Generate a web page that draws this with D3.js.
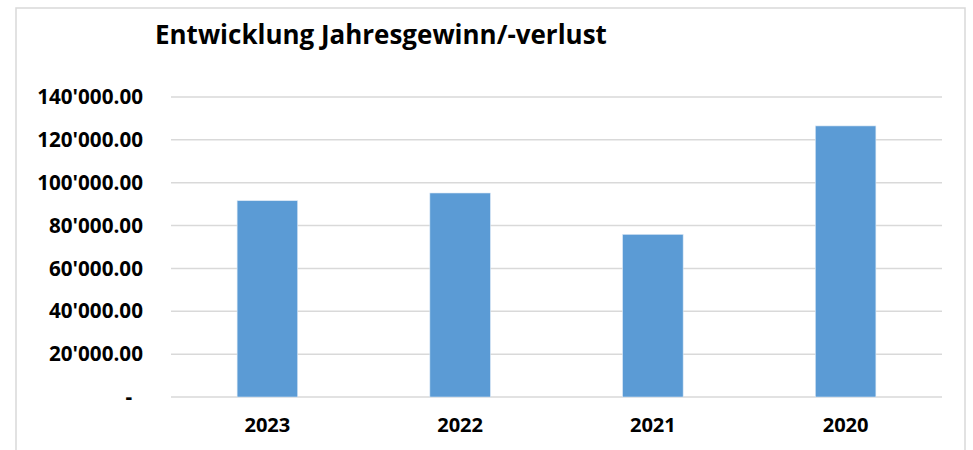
<!DOCTYPE html>
<head>
<meta charset="utf-8">
<style type="text/css">
	body { margin: 0; background: #fff; }
	text { font-family: "Open Sans", "Noto Sans", sans-serif; font-weight: bold; fill: #000; }
	.grid line { stroke: #d9d9d9; stroke-width: 1.5; }
</style>
</head>
<script src="https://d3js.org/d3.v7.min.js"></script>
<body>
	<svg width="973" height="450"></svg>
	<script>
	var years = ["2023", "2022", "2021", "2020"];
	var profit = [91600, 95200, 75900, 126500];
	var yTicks = [0, 20000, 40000, 60000, 80000, 100000, 120000, 140000];
	var title = "Entwicklung Jahresgewinn/-verlust";

	var svg = d3.select("svg");

	// chart frame
	svg.append("rect")
		.attr("x", 16).attr("y", 8)
		.attr("width", 949).attr("height", 460)
		.attr("fill", "none")
		.attr("stroke", "#d9d9d9")
		.attr("stroke-width", 1.5);

	var x = d3.scaleBand()
		.domain(years)
		.range([171, 942])
		.paddingInner(0.686)
		.paddingOuter(0.343);

	var y = d3.scaleLinear()
		.domain([0, 140000])
		.range([397, 97]);

	function fmt(v) {
		if (v === 0) return "-\u00A0\u00A0";
		return d3.format(",.2f")(v).replace(/,/g, "'");
	}

	// gridlines
	svg.append("g")
		.attr("class", "grid")
		.selectAll("line")
		.data(yTicks)
		.enter().append("line")
		.attr("x1", 171).attr("x2", 942)
		.attr("y1", function(d) { return y(d); })
		.attr("y2", function(d) { return y(d); });

	// bars
	svg.append("g")
		.selectAll("rect")
		.data(years)
		.enter().append("rect")
		.attr("x", function(d) { return x(d); })
		.attr("width", x.bandwidth())
		.attr("y", function(d, i) { return y(profit[i]); })
		.attr("height", function(d, i) { return y(0) - y(profit[i]); })
		.attr("fill", "#5b9bd5")
		.attr("stroke", "#dbe8f5")
		.attr("stroke-width", 0.6);

	// y axis labels
	var yAxis = svg.append("g")
		.attr("transform", "translate(143,0)")
		.call(d3.axisLeft(y).tickValues(yTicks).tickFormat(fmt).tickSize(0).tickPadding(0));
	yAxis.select(".domain").remove();
	yAxis.selectAll("text")
		.attr("font-size", 19)
		.attr("font-family", null);

	// x axis labels
	var xAxis = svg.append("g")
		.attr("transform", "translate(0,397)")
		.call(d3.axisBottom(x).tickSize(0).tickPadding(21));
	xAxis.select(".domain").remove();
	xAxis.selectAll("text")
		.attr("font-size", 20)
		.attr("font-family", null);

	// title
	var t = svg.append("text")
		.attr("x", 155).attr("y", 44)
		.attr("font-size", 24)
		.text(title);
	var w = t.node().getComputedTextLength();
	t.attr("font-size", 24 * 452 / w);

	// fit tick label widths to the reference
	var lab = yAxis.selectAll("text").filter(function(d) { return d === 140000; });
	var lw = lab.node().getComputedTextLength();
	yAxis.selectAll("text").attr("font-size", 19 * 106 / lw);

	var xl = xAxis.select("text");
	var xw = xl.node().getComputedTextLength();
	xAxis.selectAll("text").attr("font-size", 20 * 46 / xw);
	</script>
</body>
